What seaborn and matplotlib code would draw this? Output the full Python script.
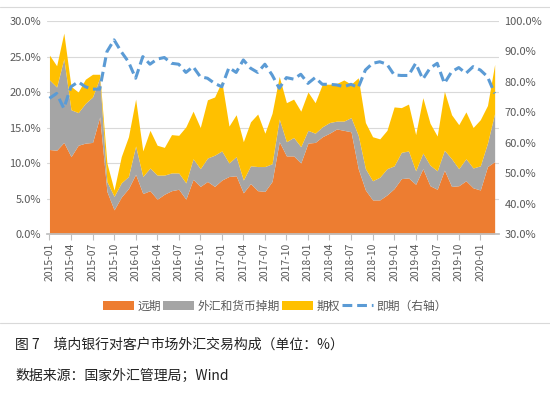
import numpy as np
import pandas as pd
import seaborn as sns
import matplotlib.pyplot as plt
from matplotlib.lines import Line2D
from matplotlib.ticker import FuncFormatter

# --- data (% of total) ---
months = pd.date_range("2015-01-01", periods=63, freq="MS").strftime("%Y-%m")
forward = [11.9, 11.8, 12.9, 10.9, 12.5, 12.8, 12.9, 16.5, 6.0, 3.4,
           5.2, 6.4, 8.4, 5.7, 6.1, 4.9, 5.6, 6.1, 6.3, 4.9,
           7.7, 6.7, 7.4, 6.7, 7.6, 8.1, 8.2, 5.8, 7.1, 6.1,
           6.0, 7.4, 13.0, 11.0, 11.0, 10.0, 12.8, 12.9, 13.7, 14.2,
           14.8, 14.6, 14.4, 9.2, 6.2, 4.8, 4.8, 5.5, 6.4, 7.8,
           7.9, 7.0, 9.2, 6.8, 6.3, 9.0, 6.7, 6.8, 7.5, 6.5,
           6.2, 9.5, 10.2]
swap = [9.8, 8.9, 11.8, 6.6, 4.6, 5.6, 6.4, 5.5, 1.4, 1.9,
        2.0, 1.7, 4.0, 2.4, 3.2, 3.4, 2.7, 2.5, 2.3, 2.3,
        2.9, 2.5, 3.3, 4.4, 4.1, 1.9, 2.7, 1.8, 2.5, 3.4,
        3.5, 2.5, 3.2, 2.0, 2.6, 2.3, 1.8, 1.3, 1.4, 1.5,
        1.1, 1.3, 2.0, 4.7, 3.0, 2.7, 3.2, 3.7, 3.2, 3.7,
        3.8, 1.9, 2.2, 2.9, 2.6, 2.8, 3.9, 2.4, 3.1, 2.8,
        3.4, 3.3, 6.8]
option = [3.5, 3.0, 3.6, 3.3, 2.9, 3.4, 3.2, 0.5, 2.6, 0.9,
          3.7, 5.6, 6.6, 3.6, 5.3, 4.2, 3.9, 5.4, 5.3, 7.9,
          6.7, 5.8, 8.2, 8.2, 9.8, 5.2, 5.9, 5.4, 6.2, 7.4,
          4.7, 7.1, 6.0, 5.5, 5.4, 5.0, 5.4, 4.3, 6.0, 5.4,
          5.3, 5.8, 4.7, 8.1, 6.5, 6.2, 5.4, 5.4, 8.3, 6.3,
          6.6, 5.1, 7.8, 5.9, 4.9, 8.3, 6.2, 6.2, 6.6, 5.7,
          6.5, 5.3, 6.9]
spot = [74.6, 76.2, 71.3, 78.4, 80.0, 78.4, 77.6, 77.6, 89.9, 93.8,
        89.9, 86.6, 81.2, 88.3, 85.8, 87.5, 88.0, 86.1, 85.8, 83.1,
        85.0, 81.7, 81.2, 79.5, 78.4, 84.7, 83.1, 87.2, 84.5, 83.1,
        85.8, 82.3, 77.9, 81.4, 80.9, 82.5, 79.5, 81.4, 79.2, 79.2,
        79.0, 78.4, 79.2, 78.1, 83.9, 86.1, 86.6, 85.8, 82.3, 82.1,
        82.1, 86.1, 80.9, 84.5, 86.1, 79.5, 83.3, 84.7, 82.8, 85.0,
        83.9, 81.7, 76.2]
labels = ["远期", "外汇和货币掉期", "期权", "即期（右轴）"]
colors = ["#ED7D31", "#A5A5A5", "#FFC000"]

df = pd.DataFrame({"month": months, "forward": forward, "swap": swap,
                   "option": option, "spot": spot})
df["x"] = np.arange(len(df))

# --- style ---
sns.set_theme(style="whitegrid")
plt.rcParams['font.family'] = ['Noto Sans CJK SC', 'DejaVu Sans']
tick_color = "#595959"

fig = plt.figure(figsize=(5.5, 3.95), dpi=100)
ax = fig.add_axes([0.0847, 0.4076, 0.8225, 0.5392])

ax.stackplot(df["x"], df["forward"], df["swap"], df["option"],
             colors=colors, labels=labels[:3], linewidth=0)
ax.set_xlim(-0.4, len(df) - 0.4)
ax.set_ylim(0, 30)
ax.set_yticks(np.arange(0, 31, 5))
ax.yaxis.set_major_formatter(FuncFormatter(lambda v, p: f"{v:.1f}%"))
ax.set_xticks(df["x"][::3])
ax.set_xticklabels(df["month"][::3], rotation=90)
ax.grid(axis="y", color="#D9D9D9", linewidth=0.8)
ax.grid(axis="x", visible=False)
for s in ["left", "right", "top"]:
    ax.spines[s].set_visible(False)
ax.spines["bottom"].set_color("#BFBFBF")
ax.tick_params(axis="x", colors=tick_color, labelsize=7.5, length=4,
               width=0.8, direction="out", bottom=True, color="#BFBFBF", pad=2)
ax.tick_params(axis="y", colors=tick_color, labelsize=8, length=0, pad=4)
ax.set_xlabel("")
ax.set_ylabel("")

# --- spot share on right axis ---
ax2 = ax.twinx()
sns.lineplot(data=df, x="x", y="spot", ax=ax2, color="#5B9BD5",
             linewidth=2.2, legend=False)
ax2.lines[0].set_dashes([3.2, 1.6])
ax2.set_ylim(30, 100)
ax2.set_yticks(np.arange(30, 101, 10))
ax2.yaxis.set_major_formatter(FuncFormatter(lambda v, p: f"{v:.1f}%"))
ax2.grid(False)
for s in ax2.spines.values():
    s.set_visible(False)
ax2.tick_params(axis="y", colors=tick_color, labelsize=8, length=0, pad=4)
ax2.set_xlabel("")
ax2.set_ylabel("")

# --- legend ---
handles, _ = ax.get_legend_handles_labels()
handles.append(Line2D([0], [0], color="#5B9BD5", linewidth=2.2,
                      dashes=[3.2, 1.6]))
fig.legend(handles, labels, loc="center", bbox_to_anchor=(0.5, 0.225),
           ncol=4, frameon=False, fontsize=8.5, handlelength=2.6,
           handleheight=0.7, handletextpad=0.3, columnspacing=0.2,
           labelcolor=tick_color)

# --- frame lines and caption ---
fig.add_artist(Line2D([0, 1], [1 - 7 / 395] * 2, color="#D9D9D9", linewidth=0.8))
fig.add_artist(Line2D([0, 1], [1 - 323 / 395] * 2, color="#D9D9D9", linewidth=0.8))
fig.text(15 / 550, 1 - 345 / 395, "图 7　境内银行对客户市场外汇交易构成（单位：%）",
         fontsize=10, color="#222222", va="center", ha="left")
fig.text(15 / 550, 1 - 376 / 395, "数据来源：国家外汇管理局；Wind",
         fontsize=10, color="#222222", va="center", ha="left")

fig.savefig("out.png", dpi=100)
